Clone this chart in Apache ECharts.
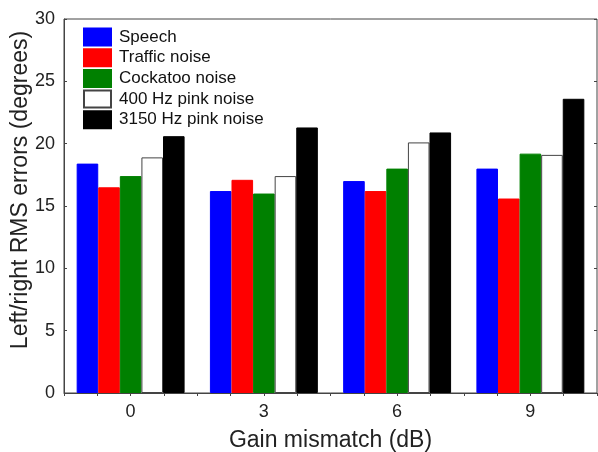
<!DOCTYPE html>
<html><head><meta charset="utf-8">
<script src="https://cdn.jsdelivr.net/npm/echarts@6/dist/echarts.min.js"></script>
<style>html,body{margin:0;padding:0;background:#fff}#c{width:598px;height:452px}</style>
</head><body><div id="c"></div>
<script>
const categories = ['0', '3', '6', '9'];
const seriesNames = ['Speech', 'Traffic noise', 'Cockatoo noise', '400 Hz pink noise', '3150 Hz pink noise'];
const speech = [18.4, 16.2, 17.0, 18.0];
const traffic = [16.5, 17.1, 16.2, 15.6];
const cockatoo = [17.4, 16.0, 18.0, 19.2];
const pink400 = [18.9, 17.4, 20.1, 19.1];
const pink3150 = [20.6, 21.3, 20.9, 23.6];
const yTicks = [0, 5, 10, 15, 20, 25, 30];

const values = [speech, traffic, cockatoo, pink400, pink3150];
const fills = ['#0000ff', '#ff0000', '#008000', '#ffffff', '#000000'];
const borders = ['#0000ff', '#ff0000', '#008000', '#444444', '#000000'];
const FONT = 'Liberation Sans, Arial, sans-serif';

const chart = echarts.init(document.getElementById('c'), null, {renderer: 'canvas'});
chart.setOption({
  animation: false,
  backgroundColor: '#fff',
  grid: {left: 64, right: 1, top: 19, bottom: 59, containLabel: false, outerBoundsMode: 'none',
    show: true, borderColor: '#444', borderWidth: 1, backgroundColor: 'transparent'},
  legend: {
    orient: 'vertical', left: 83, top: 27, padding: 0,
    itemWidth: 27, itemHeight: 17, itemGap: 0.7,
    icon: 'rect',
    textStyle: {fontFamily: FONT, fontSize: 17, lineHeight: 20, color: '#111', padding: [0, 0, 0, 3]},
    data: seriesNames
  },
  xAxis: [{
    type: 'category', data: categories, position: 'bottom',
    axisLine: {lineStyle: {color: '#444'}},
    axisTick: {inside: true, length: 3, lineStyle: {color: '#444'}},
    axisLabel: {fontFamily: FONT, fontSize: 18, color: '#222', margin: 10},
    name: 'Gain mismatch (dB)', nameLocation: 'middle', nameGap: 36, nameMoveOverlap: false,
    nameTextStyle: {fontFamily: FONT, fontSize: 23, color: '#222'}
  }, {
    type: 'value', position: 'top', min: 0, max: 16, interval: 1,
    axisLine: {show: false},
    axisTick: {show: true, inside: true, length: 3, lineStyle: {color: '#444'}},
    axisLabel: {show: false}, splitLine: {show: false}
  }],
  yAxis: [{
    type: 'value', min: yTicks[0], max: yTicks[yTicks.length - 1], interval: 5,
    axisLine: {show: true, lineStyle: {color: '#444'}},
    axisTick: {show: true, inside: true, length: 3, lineStyle: {color: '#444'}},
    axisLabel: {fontFamily: FONT, fontSize: 18, color: '#222', margin: 9},
    splitLine: {show: false},
    name: 'Left/right RMS errors (degrees)', nameLocation: 'middle', nameGap: 32, nameMoveOverlap: false,
    nameTextStyle: {fontFamily: FONT, fontSize: 23, color: '#222', padding: [0, 0, 0, 32]}
  }, {
    type: 'value', position: 'right', min: 0, max: 30, interval: 5,
    axisLine: {show: false},
    axisTick: {show: true, inside: true, length: 3, lineStyle: {color: '#444'}},
    axisLabel: {show: false}, splitLine: {show: false}
  }],
  series: seriesNames.map((n, i) => ({
    name: n, type: 'bar', data: values[i], xAxisIndex: 0, yAxisIndex: 0,
    barGap: '0%', barCategoryGap: '19%',
    itemStyle: {color: fills[i], borderColor: borders[i], borderWidth: 1}
  }))
});
</script></body></html>
